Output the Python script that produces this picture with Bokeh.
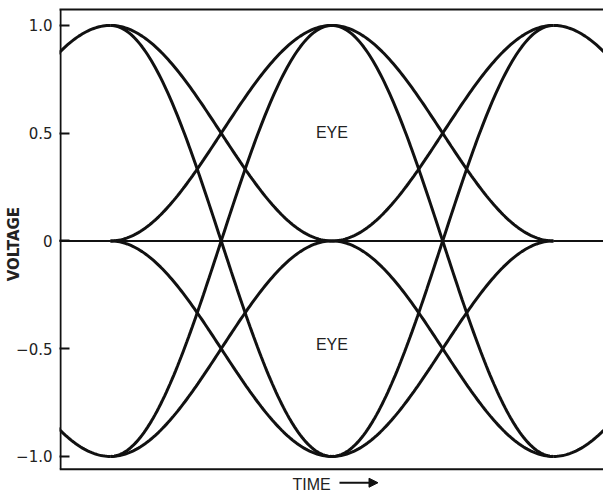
import numpy as np
from bokeh.plotting import figure
from bokeh.models import Range1d, LinearAxis, FixedTicker, ColumnDataSource, Arrow, NormalHead
from bokeh.embed import file_html
from bokeh.resources import INLINE
from bokeh.core.properties import value

# ---- data (time in symbol periods, voltage levels at sampling instants) ----
interval_start = [-1, 0, 1, 2]
start_levels = [
    [0, 0, 0],
    [1, -1, 1, 0, -1, 0, 0],
    [1, -1, 1, 0, -1, 0, 0],
    [1, -1, 0],
]
end_levels = [
    [1, -1, 0],
    [-1, 1, 0, 1, 0, -1, 0],
    [-1, 1, 0, 1, 0, -1, 0],
    [0, 0, 0],
]
y_ticks = [-1.0, -0.5, 0.0, 0.5, 1.0]
y_tick_labels = ["\u22121.0", "\u22120.5", "0", "0.5", "1.0"]
eye_x = [1.0, 1.0]
eye_y = [0.505, -0.48]
eye_text = ["EYE", "EYE"]
time_label = ["TIME"]
voltage_label = "VOLTAGE"

# axis extents (data units)
X0, X1 = -0.23, 2.226
Y_TOP, Y_BOTTOM_AXIS, Y_CANVAS_BOTTOM = 1.074, -1.06, -1.1766

FONT = "Liberation Sans"
AXFONT = "DejaVu Sans"
INK = "#111111"
TXT = "#222222"

# ---- build transition curves (raised-cosine shaped transitions) ----
u = np.linspace(0, 1, 120)
shape = (1 - np.cos(np.pi * u)) / 2
curve_xs, curve_ys, flat_xs, flat_ys = [], [], [], []
for k, starts, ends in zip(interval_start, start_levels, end_levels):
    for a, b in zip(starts, ends):
        xs = list(k + u)
        ys = list(a + (b - a) * shape)
        if a == 0 and b == 0:
            flat_xs.append(xs); flat_ys.append(ys)
        else:
            curve_xs.append(xs); curve_ys.append(ys)

p = figure(width=603, height=494,
           x_range=Range1d(X0, X1), y_range=Range1d(Y_CANVAS_BOTTOM, Y_TOP),
           x_axis_type=None, y_axis_type=None,
           output_backend="svg", toolbar_location=None,
           min_border_left=59, min_border_right=0, min_border_top=9, min_border_bottom=0)
p.outline_line_color = None
p.background_fill_color = "white"
p.border_fill_color = "white"

px = (X1 - X0) / 544.0  # one pixel in x data units

# frame lines: left and bottom (top comes from an empty axis)
p.segment(x0=[X0 + px], y0=[Y_BOTTOM_AXIS], x1=[X0 + px], y1=[Y_TOP], line_color=INK, line_width=2)
p.segment(x0=[X0], y0=[Y_BOTTOM_AXIS], x1=[X1], y1=[Y_BOTTOM_AXIS], line_color=INK, line_width=2)

p.multi_line(curve_xs, curve_ys, line_color=INK, line_width=3)
p.multi_line(flat_xs, flat_ys, line_color=INK, line_width=2)

src = ColumnDataSource(dict(x=eye_x, y=eye_y, text=eye_text))
p.text(x="x", y="y", text="text", source=src, text_align="center", text_baseline="middle",
       text_font=value(FONT), text_font_size="16px", text_color=TXT)

# "TIME ->" caption under the frame
p.text(x=[0.822], y=[-1.128], text=time_label, text_align="left", text_baseline="middle",
       text_font=value(FONT), text_font_size="16px", text_color=TXT)
p.add_layout(Arrow(x_start=1.034, y_start=-1.122, x_end=1.208, y_end=-1.122,
                   line_color=INK, line_width=2,
                   end=NormalHead(size=9, fill_color=INK, line_color=INK, line_width=1)))

yaxis = LinearAxis(ticker=FixedTicker(ticks=y_ticks),
                   major_label_overrides={t: l for t, l in zip(y_ticks, y_tick_labels)},
                   axis_label="\u00a0\u00a0\u00a0" + voltage_label)
yaxis.axis_line_color = None
yaxis.major_tick_in = 10
yaxis.major_tick_out = 0
yaxis.major_tick_line_width = 2
yaxis.major_tick_line_color = INK
yaxis.minor_tick_line_color = None
yaxis.major_label_standoff = 7
yaxis.major_label_text_font = AXFONT
yaxis.major_label_text_font_size = "15px"
yaxis.major_label_text_color = TXT
yaxis.axis_label_text_font = AXFONT
yaxis.axis_label_text_font_size = "15px"
yaxis.axis_label_text_font_style = "bold"
yaxis.axis_label_text_color = TXT
yaxis.axis_label_standoff = -10
p.add_layout(yaxis, "left")

top = LinearAxis(ticker=FixedTicker(ticks=[]))
top.axis_line_width = 2
top.axis_line_color = INK
top.major_tick_in = 0
top.major_tick_out = 0
top.minor_tick_line_color = None
top.major_label_text_font_size = "0px"
p.add_layout(top, "above")

open("out.html", "w").write(file_html(p, INLINE))
